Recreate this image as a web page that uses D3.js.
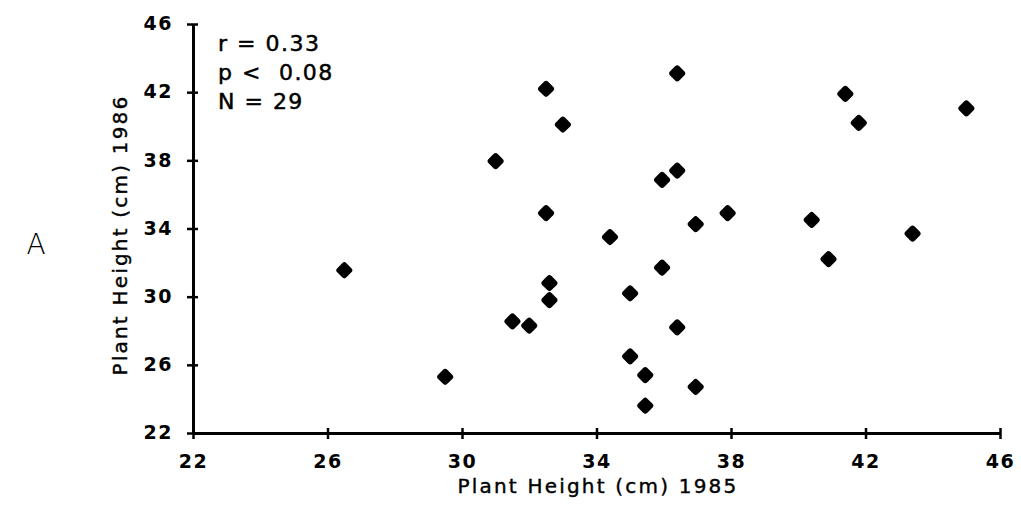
<!DOCTYPE html>
<html><head><meta charset="utf-8">
<script src="https://cdn.jsdelivr.net/npm/d3@7"></script>
<style>body{margin:0;background:#fff}svg{display:block}text{font-family:"DejaVu Sans",sans-serif;fill:#000}</style>
</head><body>
<svg id="c" width="1021" height="506"></svg>
<script>
const height1985 = [26.5,29.5,31.0,31.5,32.0,32.6,32.6,32.5,32.5,33.0,34.4,35.0,35.0,35.45,35.45,35.95,35.95,36.4,36.4,36.4,36.95,36.95,37.9,40.4,40.9,41.4,41.8,43.4,45.0];
const height1986 = [31.55,25.3,37.95,28.55,28.3,30.8,29.8,34.9,42.2,40.1,33.5,30.2,26.5,25.4,23.6,31.7,36.85,37.4,43.1,28.2,34.25,24.7,34.9,34.5,32.2,41.9,40.2,33.7,41.05];
const xTicks = [22,26,30,34,38,42,46];
const yTicks = [22,26,30,34,38,42,46];
const statLines = ["r = 0.33","p <  0.08","N = 29"];

const svg = d3.select("#c");
const x = d3.scaleLinear().domain([22,46]).range([193,1000]);
const y = d3.scaleLinear().domain([22,46]).range([433,24]);

const xAxis = svg.append("g").attr("transform","translate(0,433)")
  .call(d3.axisBottom(x).tickValues(xTicks).tickSizeInner(6).tickSizeOuter(0).tickPadding(16));
const yAxis = svg.append("g").attr("transform","translate(193,0)")
  .call(d3.axisLeft(y).tickValues(yTicks).tickSizeInner(6).tickSizeOuter(0).tickPadding(14));
[xAxis,yAxis].forEach(a=>{
  a.select(".domain").attr("stroke","#000").attr("stroke-width",3);
  a.selectAll(".tick line").attr("stroke","#000").attr("stroke-width",2.5);
  a.selectAll(".tick text").attr("font-size",19).attr("font-weight","bold").attr("letter-spacing",1.5)
    .style("font-family","DejaVu Sans, sans-serif");
});
xAxis.selectAll(".tick line").attr("y1",-5).attr("y2",6);
yAxis.selectAll(".tick line").attr("x1",5).attr("x2",-6);
yAxis.selectAll(".tick text").attr("dy","0.3em");

svg.append("g").selectAll("rect").data(height1985.map((v,i)=>[v,height1986[i]])).join("rect")
  .attr("x",-6.5).attr("y",-6.5).attr("width",13).attr("height",13).attr("rx",3)
  .attr("transform",d=>`translate(${x(d[0])},${y(d[1])}) rotate(45)`)
  .attr("fill","#000");

svg.append("g").selectAll("text").data(statLines).join("text")
  .attr("x",218).attr("y",(d,i)=>51+i*29).attr("font-size",22).attr("letter-spacing",1.5)
  .attr("stroke","#000").attr("stroke-width",0.5)
  .style("white-space","pre").text(d=>d);

svg.append("text").attr("x",598).attr("y",493).attr("text-anchor","middle")
  .attr("font-size",20).attr("letter-spacing",2.2).attr("stroke","#000").attr("stroke-width",0.4)
  .text("Plant Height (cm) 1985");
svg.append("text").attr("transform","translate(127,235) rotate(-90)").attr("text-anchor","middle")
  .attr("font-size",20).attr("letter-spacing",2.2).attr("stroke","#000").attr("stroke-width",0.4)
  .text("Plant Height (cm) 1986");
svg.append("text").attr("x",36).attr("y",254).attr("text-anchor","middle")
  .attr("font-size",28).attr("font-weight",300).text("A");
</script>
</body></html>
